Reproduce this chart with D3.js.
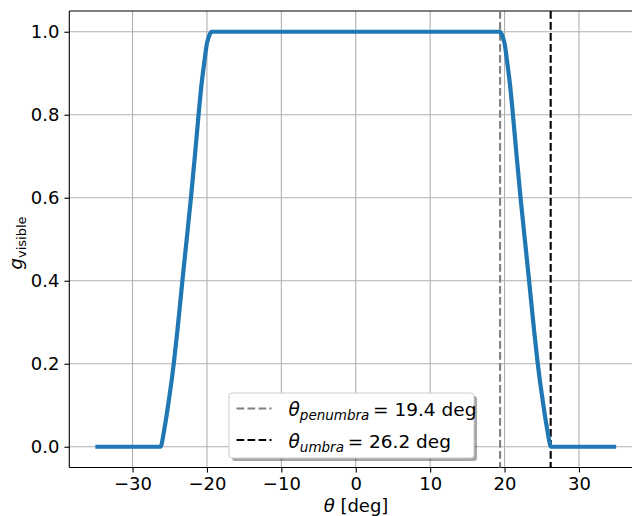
<!DOCTYPE html>
<html>
<head>
<meta charset="utf-8">
<script src="https://cdn.jsdelivr.net/npm/d3@7"></script>
<style>
  html, body { margin: 0; padding: 0; background: #fff; }
  svg { display: block; font-family: "DejaVu Sans", sans-serif; }
</style>
</head>
<body>
<svg id="chart" width="632" height="516"></svg>
<script>
// ---- data ----
const thetaDeg = [-35, -26.2, -26.0, -25.77, -25.4, -25.1, -24.76, -24.43, -23.97, -23.3, -22.75, -22.15, -21.6, -21.1, -20.78, -20.33, -20.0, -19.8, -19.6, -19.4,
                  19.4, 19.6, 19.8, 20.0, 20.33, 20.78, 21.1, 21.6, 22.15, 22.75, 23.3, 23.97, 24.43, 24.76, 25.1, 25.4, 25.77, 26.0, 26.2, 35];
const gVisible = [0, 0, 0.014, 0.038, 0.078, 0.115, 0.158, 0.205, 0.28, 0.4, 0.495, 0.6, 0.705, 0.805, 0.865, 0.93, 0.972, 0.985, 0.995, 1,
                  1, 0.995, 0.985, 0.972, 0.93, 0.865, 0.805, 0.705, 0.6, 0.495, 0.4, 0.28, 0.205, 0.158, 0.115, 0.078, 0.038, 0.014, 0, 0];
const xTicks = [-30, -20, -10, 0, 10, 20, 30];
const yTicks = [0.0, 0.2, 0.4, 0.6, 0.8, 1.0];
const xDomain = [-38.5, 38.5];
const yDomain = [-0.05, 1.05];
const thetaPenumbra = 19.4;
const thetaUmbra = 26.2;
const legendLabels = [
  { sub: "penumbra", value: "19.4 deg" },
  { sub: "umbra", value: "26.2 deg" }
];

(function () {
// ---- layout ----
const svg = d3.select("#chart");
const pLeft = 69.3, pRight = 642.2, pTop = 11, pBottom = 467.5;
const x = d3.scaleLinear().domain(xDomain).range([pLeft, pRight]);
const y = d3.scaleLinear().domain(yDomain).range([pBottom, pTop]);

const fmtX = d => (d < 0 ? "\u2212" + Math.abs(d) : String(d));
const fmtY = d => d.toFixed(1);

// grid
const grid = svg.append("g");
grid.selectAll(".gx").data(xTicks).enter().append("line")
  .attr("x1", d => x(d)).attr("x2", d => x(d)).attr("y1", pTop).attr("y2", pBottom)
  .attr("stroke", "#b0b0b0").attr("stroke-width", 1.1);
grid.selectAll(".gy").data(yTicks).enter().append("line")
  .attr("x1", pLeft).attr("x2", pRight).attr("y1", d => y(d)).attr("y2", d => y(d))
  .attr("stroke", "#b0b0b0").attr("stroke-width", 1.1);

// axes
const xAxis = d3.axisBottom(x).tickValues(xTicks).tickFormat(fmtX).tickSize(4.9).tickPadding(4.9);
const yAxis = d3.axisLeft(y).tickValues(yTicks).tickFormat(fmtY).tickSize(4.9).tickPadding(4.9);
const gx = svg.append("g").attr("transform", `translate(0,${pBottom})`).call(xAxis);
const gy = svg.append("g").attr("transform", `translate(${pLeft},0)`).call(yAxis);
[gx, gy].forEach(g => {
  g.select(".domain").remove();
  g.selectAll(".tick line").attr("stroke", "#000").attr("stroke-width", 1.1);
  g.selectAll(".tick text").attr("fill", "#000").attr("font-size", 18).attr("font-family", "DejaVu Sans");
});

// spines
svg.append("line").attr("x1", pLeft).attr("x2", pLeft).attr("y1", pTop).attr("y2", pBottom).attr("stroke", "#000").attr("stroke-width", 1.1);
svg.append("line").attr("x1", pLeft).attr("x2", pRight).attr("y1", pBottom).attr("y2", pBottom).attr("stroke", "#000").attr("stroke-width", 1.1);
svg.append("line").attr("x1", pLeft).attr("x2", pRight).attr("y1", pTop).attr("y2", pTop).attr("stroke", "#000").attr("stroke-width", 1.1);
svg.append("line").attr("x1", pRight).attr("x2", pRight).attr("y1", pTop).attr("y2", pBottom).attr("stroke", "#000").attr("stroke-width", 1.1);

// vertical reference lines
svg.append("line").attr("x1", x(thetaPenumbra)).attr("x2", x(thetaPenumbra)).attr("y1", pTop).attr("y2", pBottom)
  .attr("stroke", "#808080").attr("stroke-width", 2.1).attr("stroke-dasharray", "7.7,3.3");
svg.append("line").attr("x1", x(thetaUmbra)).attr("x2", x(thetaUmbra)).attr("y1", pTop).attr("y2", pBottom)
  .attr("stroke", "#000").attr("stroke-width", 2.1).attr("stroke-dasharray", "7.7,3.3");

// curve
const pts = thetaDeg.map((t, i) => [t, gVisible[i]]);
const line = d3.line().x(d => x(d[0])).y(d => y(d[1])).curve(d3.curveMonotoneX);
svg.append("path").datum(pts).attr("d", line)
  .attr("fill", "none").attr("stroke", "#1f77b4").attr("stroke-width", 4.2)
  .attr("stroke-linejoin", "round").attr("stroke-linecap", "butt");

// axis labels
const xl = svg.append("text").attr("x", 356).attr("y", 511.5).attr("text-anchor", "middle")
  .attr("font-size", 18).attr("fill", "#000");
xl.append("tspan").attr("font-style", "italic").text("\u03b8");
xl.append("tspan").text(" [deg]");

const yl = svg.append("text").attr("transform", "translate(22,243) rotate(-90)").attr("text-anchor", "middle")
  .attr("font-size", 18).attr("fill", "#000");
yl.append("tspan").attr("font-style", "italic").text("g");
yl.append("tspan").attr("font-size", 13).attr("dy", 4).text("visible");

// legend
const lx = 229, ly = 393, lw = 245, lh = 65;
svg.append("rect").attr("x", lx + 3).attr("y", ly + 3).attr("width", lw).attr("height", lh)
  .attr("rx", 3).attr("fill", "#000").attr("opacity", 0.35);
svg.append("rect").attr("x", lx).attr("y", ly).attr("width", lw).attr("height", lh)
  .attr("rx", 3).attr("fill", "#fff").attr("stroke", "#cccccc").attr("stroke-width", 1);
const legendColors = ["#808080", "#000"];
const rowY = [408.5, 440];
legendLabels.forEach((d, i) => {
  svg.append("line").attr("x1", 236.5).attr("x2", 271.5).attr("y1", rowY[i]).attr("y2", rowY[i])
    .attr("stroke", legendColors[i]).attr("stroke-width", 2.1).attr("stroke-dasharray", "7.7,3.3");
  const t = svg.append("text").attr("x", 288.5).attr("y", rowY[i] + 7.5).attr("font-size", 18.5).attr("fill", "#000");
  t.append("tspan").attr("font-style", "italic").text("\u03b8");
  t.append("tspan").attr("font-style", "italic").attr("font-size", 13.5).attr("dy", 4).text(d.sub);
  t.append("tspan").attr("dy", -4).text("\u2009= " + d.value);
});
})();
</script>
</body>
</html>
